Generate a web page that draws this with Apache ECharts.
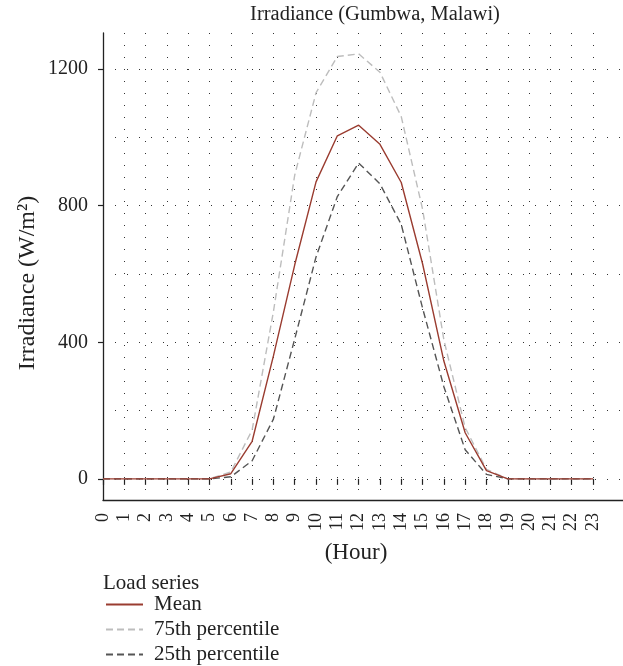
<!DOCTYPE html>
<html>
<head>
<meta charset="utf-8">
<script src="https://cdn.jsdelivr.net/npm/echarts@6/dist/echarts.min.js"></script>
<style>
html,body{margin:0;padding:0;background:#fff;}
#chart{width:623px;height:666px;}
</style>
</head>
<body>
<div id="chart"></div>
<script>
const titleText = 'Irradiance (Gumbwa, Malawi)';
const yAxisTitle = 'Irradiance (W/m²)';
const xAxisTitle = '(Hour)';
const legendTitle = 'Load series';
const seriesNames = ['Mean', '75th percentile', '25th percentile'];
const hours = [0,1,2,3,4,5,6,7,8,9,10,11,12,13,14,15,16,17,18,19,20,21,22,23];
const meanVals = [0,0,0,0,0,0,15,110,360,627,870,1005,1036,980,868,630,345,135,24,0,0,0,0,0];
const p75Vals  = [0,0,0,0,0,0,20,143,490,890,1131,1237,1245,1191,1061,790,407,150,28,0,0,0,0,0];
const p25Vals  = [0,0,0,0,0,0,6,53,175,410,650,827,925,864,745,500,270,85,13,0,0,0,0,0];
const yTickLabels = [0,400,800,1200];

const FONT = '"Liberation Serif", "DejaVu Serif", serif';
const chart = echarts.init(document.getElementById('chart'), null, {renderer:'canvas'});
const toPairs = arr => hours.map((h,i)=>[h, arr[i]]);
const dotted = {color:'#333', width:1, type:[1,11]};

const option = {
  animation:false,
  backgroundColor:'#fff',
  textStyle:{fontFamily:FONT},
  grid:[
    {left:103, top:33, width:490, height:467},
    {left:103, right:0, top:69.2, height:409.6},
    {left:103, right:0, top:33, height:467}
  ],
  xAxis:[
    {gridIndex:0, type:'value', min:0, max:23, interval:1, position:'bottom',
     axisLine:{show:false},
     axisTick:{show:true, length:6, inside:false, lineStyle:{color:'#222', width:1.2}},
     axisLabel:{rotate:90, fontSize:18, margin:13, color:'#222', fontFamily:FONT},
     splitLine:{show:true, lineStyle:dotted}},
    {gridIndex:1, type:'value', min:0, max:1, show:false},
    {gridIndex:2, type:'value', min:0, max:1, position:'bottom',
     axisLine:{show:true, lineStyle:{color:'#222', width:1.3}},
     axisTick:{show:false}, axisLabel:{show:false}, splitLine:{show:false}}
  ],
  yAxis:[
    {gridIndex:0, type:'value', min:-62, max:1306, position:'left',
     axisLine:{show:true, lineStyle:{color:'#222', width:1.3}},
     axisTick:{show:false}, axisLabel:{show:false}, splitLine:{show:false}},
    {gridIndex:1, type:'value', min:0, max:1200, interval:200, position:'left',
     axisLine:{show:false}, axisTick:{show:false}, axisLabel:{show:false},
     splitLine:{show:true, lineStyle:dotted}},
    {gridIndex:1, type:'value', min:0, max:1200, interval:400, position:'left', offset:0,
     axisLine:{show:false},
     axisTick:{show:true, length:5, lineStyle:{color:'#222', width:1.2}},
     axisLabel:{fontSize:20, margin:15, color:'#222', fontFamily:FONT,
       formatter: v => yTickLabels.includes(v) ? String(v) : ''},
     splitLine:{show:false}},
    {gridIndex:2, type:'value', min:0, max:1, show:false}
  ],
  legend:{
    orient:'vertical', left:105, top:594, padding:0, itemWidth:37, itemHeight:10, itemGap:4,
    data:seriesNames,
    itemStyle:{opacity:0},
    textStyle:{fontSize:21, fontFamily:FONT, color:'#222', lineHeight:21, padding:[0,0,0,6]}
  },
  graphic:[
    {type:'text', x:375, y:15, style:{text:titleText, fontSize:20.5, fontFamily:FONT, fill:'#222', textAlign:'center', textVerticalAlign:'middle'}},
    {type:'text', x:28, y:283, rotation:Math.PI/2, style:{text:yAxisTitle, fontSize:24, fontFamily:FONT, fill:'#222', textAlign:'center', textVerticalAlign:'middle'}},
    {type:'text', x:356, y:553, style:{text:xAxisTitle, fontSize:23, fontFamily:FONT, fill:'#222', textAlign:'center', textVerticalAlign:'middle'}},
    {type:'text', x:103, y:583, style:{text:legendTitle, fontSize:21, fontFamily:FONT, fill:'#222', textAlign:'left', textVerticalAlign:'middle'}}
  ],
  series:[
    {name:seriesNames[1], type:'line', xAxisIndex:0, yAxisIndex:0, data:toPairs(p75Vals), symbol:'none', showSymbol:false,
     lineStyle:{color:'#bdbdbd', width:1.4, type:[7,4]}, itemStyle:{color:'#bdbdbd'}},
    {name:seriesNames[2], type:'line', xAxisIndex:0, yAxisIndex:0, data:toPairs(p25Vals), symbol:'none', showSymbol:false,
     lineStyle:{color:'#555', width:1.4, type:[7,4]}, itemStyle:{color:'#555'}},
    {name:seriesNames[0], type:'line', xAxisIndex:0, yAxisIndex:0, data:toPairs(meanVals), symbol:'none', showSymbol:false,
     lineStyle:{color:'#9a3c30', width:1.4, type:'solid'}, itemStyle:{color:'#9a3c30'}}
  ]
};
chart.setOption(option);
</script>
</body>
</html>
